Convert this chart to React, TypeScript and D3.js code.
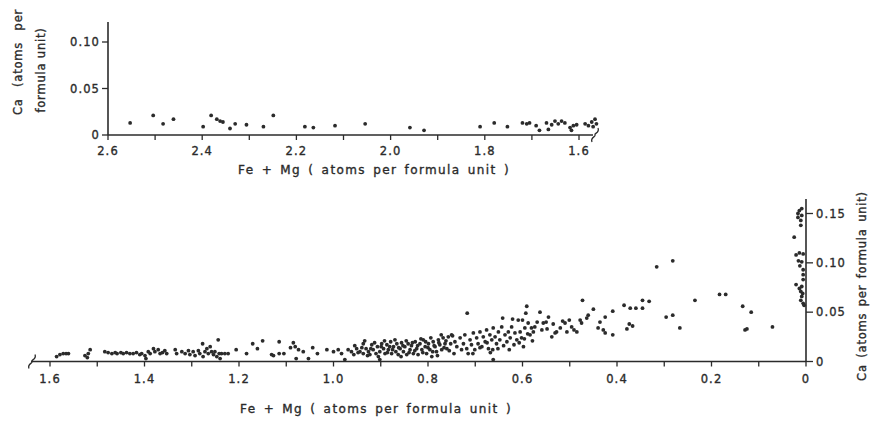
import React from "react";
import * as d3 from "d3";

// Upper panel: high Fe+Mg compositions, [Fe+Mg, Ca]
const upperSeries: [number, number][] = [
  [2.553, 0.013], [2.504, 0.021], [2.483, 0.012], [2.461, 0.017], [2.398, 0.009],
  [2.381, 0.021], [2.369, 0.017], [2.362, 0.015], [2.356, 0.014], [2.341, 0.007],
  [2.330, 0.012], [2.306, 0.011], [2.270, 0.009], [2.249, 0.021], [2.182, 0.009],
  [2.164, 0.008], [2.118, 0.010], [2.054, 0.012], [1.959, 0.008], [1.929, 0.005],
  [1.810, 0.009], [1.780, 0.013], [1.752, 0.009], [1.720, 0.013], [1.711, 0.012],
  [1.705, 0.013], [1.691, 0.010], [1.684, 0.005], [1.669, 0.013], [1.665, 0.006],
  [1.658, 0.011], [1.651, 0.015], [1.644, 0.012], [1.637, 0.015], [1.630, 0.013],
  [1.619, 0.008], [1.612, 0.010], [1.605, 0.011], [1.616, 0.005], [1.587, 0.012],
  [1.580, 0.010], [1.573, 0.014], [1.566, 0.017], [1.563, 0.012], [1.570, 0.009],
];

// Lower panel: low Fe+Mg compositions, [Fe+Mg, Ca]
const lowerSeries: [number, number][] = [
  [1.586, 0.005], [1.579, 0.007], [1.572, 0.008], [1.566, 0.008], [1.561, 0.008],
  [1.526, 0.006], [1.519, 0.008], [1.515, 0.012], [1.521, 0.004], [1.484, 0.010],
  [1.477, 0.009], [1.469, 0.008], [1.462, 0.009], [1.458, 0.008], [1.450, 0.009],
  [1.445, 0.008], [1.438, 0.009], [1.431, 0.008], [1.424, 0.008], [1.417, 0.009],
  [1.410, 0.007], [1.406, 0.008], [1.399, 0.006], [1.397, 0.003], [1.392, 0.010],
  [1.388, 0.008], [1.381, 0.013], [1.378, 0.010], [1.371, 0.012], [1.367, 0.008],
  [1.362, 0.009], [1.357, 0.011], [1.353, 0.008], [1.335, 0.012], [1.332, 0.008],
  [1.321, 0.010], [1.314, 0.008], [1.307, 0.011], [1.304, 0.007], [1.297, 0.010],
  [1.293, 0.006], [1.286, 0.011], [1.283, 0.008], [1.277, 0.018], [1.276, 0.005],
  [1.272, 0.010], [1.268, 0.013], [1.265, 0.008], [1.261, 0.015], [1.258, 0.010],
  [1.254, 0.007], [1.251, 0.010], [1.247, 0.005], [1.244, 0.022], [1.242, 0.008],
  [1.237, 0.008], [1.230, 0.008], [1.223, 0.008], [1.240, 0.003], [1.206, 0.012],
  [1.184, 0.008], [1.171, 0.018], [1.161, 0.013], [1.150, 0.021], [1.131, 0.007],
  [1.127, 0.006], [1.115, 0.020], [1.115, 0.008], [1.105, 0.008], [1.085, 0.019],
  [1.091, 0.014], [1.081, 0.015], [1.074, 0.012], [1.064, 0.010], [1.053, 0.003],
  [1.079, 0.003], [1.044, 0.014], [1.034, 0.008], [1.014, 0.012],
  [1.000, 0.010], [0.990, 0.012], [0.983, 0.008], [0.976, 0.002], [0.969, 0.012],
  [0.962, 0.010], [0.957, 0.007], [0.951, 0.013], [0.944, 0.010], [0.937, 0.018],
  [0.937, 0.008], [0.931, 0.013], [0.926, 0.010], [0.923, 0.007], [0.919, 0.017],
  [0.916, 0.012], [0.910, 0.008], [0.907, 0.015], [0.902, 0.010], [0.902, 0.002],
  [0.898, 0.018], [0.894, 0.013], [0.891, 0.008], [0.887, 0.017], [0.884, 0.012],
  [0.879, 0.020], [0.877, 0.008], [0.873, 0.015], [0.868, 0.010], [0.866, 0.018],
  [0.863, 0.007], [0.859, 0.013], [0.856, 0.019], [0.852, 0.010], [0.849, 0.015],
  [0.845, 0.007], [0.842, 0.018], [0.838, 0.012], [0.835, 0.016], [0.831, 0.008],
  [0.827, 0.020], [0.824, 0.013], [0.821, 0.007], [0.817, 0.018], [0.813, 0.012],
  [0.810, 0.022], [0.806, 0.015], [0.803, 0.008], [0.799, 0.018], [0.796, 0.012],
  [0.792, 0.005], [0.789, 0.020], [0.785, 0.015], [0.782, 0.010], [0.778, 0.022],
  [0.775, 0.017], [0.771, 0.012], [0.768, 0.024], [0.764, 0.018], [0.760, 0.013],
  [0.757, 0.025],
  [0.955, 0.016], [0.948, 0.009], [0.940, 0.014], [0.934, 0.021], [0.928, 0.006],
  [0.921, 0.013], [0.913, 0.019], [0.905, 0.005], [0.899, 0.015], [0.892, 0.021],
  [0.886, 0.009], [0.881, 0.015], [0.875, 0.012], [0.870, 0.022], [0.862, 0.014],
  [0.857, 0.005], [0.853, 0.016], [0.846, 0.021], [0.840, 0.009], [0.833, 0.019],
  [0.828, 0.011], [0.822, 0.016], [0.815, 0.023], [0.811, 0.009], [0.805, 0.020],
  [0.800, 0.014], [0.794, 0.024], [0.790, 0.010], [0.787, 0.016], [0.780, 0.006],
  [0.777, 0.019], [0.772, 0.027], [0.766, 0.014], [0.762, 0.021], [0.755, 0.011],
  [0.752, 0.018], [0.748, 0.026], [0.745, 0.008],
  [0.717, 0.049], [0.750, 0.027], [0.743, 0.020], [0.739, 0.015], [0.732, 0.024],
  [0.729, 0.012], [0.725, 0.018], [0.722, 0.027], [0.718, 0.013], [0.715, 0.008],
  [0.711, 0.022], [0.708, 0.017], [0.704, 0.029], [0.701, 0.012], [0.697, 0.024],
  [0.694, 0.018], [0.690, 0.030], [0.686, 0.015], [0.683, 0.025], [0.679, 0.020],
  [0.676, 0.032], [0.672, 0.013], [0.669, 0.027], [0.665, 0.022], [0.663, 0.012],
  [0.662, 0.034], [0.658, 0.025], [0.655, 0.018], [0.651, 0.030], [0.648, 0.022],
  [0.644, 0.035], [0.642, 0.044], [0.662, 0.002], [0.637, 0.027], [0.633, 0.020],
  [0.630, 0.030], [0.626, 0.024], [0.623, 0.035], [0.621, 0.043], [0.616, 0.029],
  [0.612, 0.022], [0.609, 0.042], [0.605, 0.030], [0.602, 0.024], [0.600, 0.042],
  [0.598, 0.015], [0.595, 0.034], [0.593, 0.049], [0.591, 0.056], [0.588, 0.039],
  [0.584, 0.027], [0.581, 0.034], [0.577, 0.030], [0.574, 0.035], [0.569, 0.040],
  [0.563, 0.050], [0.559, 0.032], [0.556, 0.039], [0.550, 0.040], [0.548, 0.033],
  [0.538, 0.025], [0.531, 0.029], [0.528, 0.030],
  [0.705, 0.008], [0.690, 0.014], [0.675, 0.019], [0.668, 0.009], [0.652, 0.013],
  [0.640, 0.016], [0.628, 0.012], [0.618, 0.017], [0.607, 0.019], [0.596, 0.023],
  [0.589, 0.028], [0.579, 0.021],
  [0.473, 0.062], [0.316, 0.096], [0.510, 0.039], [0.506, 0.030], [0.501, 0.042],
  [0.496, 0.035], [0.491, 0.032], [0.485, 0.030], [0.478, 0.042], [0.475, 0.039],
  [0.464, 0.044], [0.461, 0.047], [0.450, 0.053], [0.440, 0.034], [0.436, 0.040],
  [0.429, 0.032], [0.425, 0.045], [0.425, 0.029], [0.409, 0.027], [0.409, 0.051],
  [0.385, 0.057], [0.379, 0.033], [0.374, 0.038], [0.367, 0.036], [0.372, 0.054],
  [0.360, 0.054], [0.346, 0.062], [0.346, 0.054], [0.332, 0.061], [0.282, 0.102],
  [0.296, 0.045], [0.282, 0.047], [0.267, 0.034], [0.235, 0.062], [0.183, 0.068],
  [0.170, 0.068], [0.134, 0.056], [0.116, 0.050], [0.129, 0.032], [0.125, 0.033],
  [0.071, 0.035],
  [0.520, 0.034], [0.515, 0.041], [0.545, 0.045], [0.535, 0.038],
  [0.014, 0.153], [0.009, 0.155], [0.017, 0.150], [0.009, 0.148], [0.017, 0.146],
  [0.011, 0.143], [0.011, 0.138], [0.025, 0.126], [0.021, 0.108], [0.016, 0.102],
  [0.006, 0.109], [0.006, 0.093], [0.006, 0.088], [0.006, 0.083], [0.021, 0.078],
  [0.014, 0.074], [0.009, 0.076], [0.011, 0.071], [0.007, 0.069], [0.009, 0.066],
  [0.011, 0.062], [0.006, 0.059], [0.004, 0.057], [0.013, 0.097], [0.014, 0.110],
  [0.009, 0.101],
];

const upperXTicks = [2.6, 2.5, 2.4, 2.3, 2.2, 2.1, 2.0, 1.9, 1.8, 1.7, 1.6];
const upperXLabels = ["2.6", "2.4", "2.2", "2.0", "1.8", "1.6"];
const upperYTicks = [0, 0.05, 0.1];
const upperYLabels = ["0", "0.05", "0.10"];

const lowerXTicks = [1.6, 1.5, 1.4, 1.3, 1.2, 1.1, 1.0, 0.9, 0.8, 0.7, 0.6, 0.5, 0.4, 0.3, 0.2, 0.1, 0];
const lowerXLabels = ["1.6", "1.4", "1.2", "1.0", "0.8", "0.6", "0.4", "0.2", "0"];
const lowerYTicks = [0, 0.05, 0.1, 0.15];
const lowerYLabels = ["0", "0.05", "0.10", "0.15"];

const xTitle = "Fe + Mg  ( atoms per formula unit )";
const ink = "#2b2b2b";
const font = "'DejaVu Sans', sans-serif";

// Small S-shaped axis break
function BreakMark({ x, y }: { x: number; y: number }) {
  const p = d3.path();
  p.moveTo(x - 3, y + 7);
  p.bezierCurveTo(x - 5, y + 2, x + 1, y + 2, x, y);
  p.bezierCurveTo(x - 1, y - 2, x + 5, y - 2, x + 3, y - 7);
  return <path d={p.toString()} fill="none" stroke={ink} strokeWidth={1.3} />;
}

export default function App() {
  // Upper panel scales
  const ux = d3.scaleLinear().domain([2.6, 1.6]).range([108, 579]);
  const uy = d3.scaleLinear().domain([0, 0.1]).range([135, 42]);
  // Lower panel scales
  const lx = d3.scaleLinear().domain([1.6, 0]).range([50, 806]);
  const ly = d3.scaleLinear().domain([0, 0.15]).range([361.5, 213.5]);

  // lettering: slightly heavy, widely spaced
  const textStyle = { fontFamily: font, fill: ink, stroke: ink, strokeWidth: 0.35 } as const;
  const tickText = { ...textStyle, fontSize: 11.5, letterSpacing: 1.1 } as const;
  const titleText = { ...textStyle, fontSize: 12, letterSpacing: 1.4, wordSpacing: 2 } as const;
  const sideTitle = { ...textStyle, fontSize: 11.5, letterSpacing: 0.8 } as const;

  return (
    <svg
      width={876}
      height={423}
      style={{ position: "absolute", left: 0, top: 0, background: "#fff" }}
    >
      {/* ---------- upper panel ---------- */}
      <g>
        <line x1={ux(2.6)} x2={ux(1.6) + 14} y1={uy(0)} y2={uy(0)} stroke={ink} strokeWidth={1.6} />
        <BreakMark x={ux(1.6) + 16} y={uy(0)} />
        <line x1={ux(2.6)} x2={ux(2.6)} y1={uy(0)} y2={22} stroke={ink} strokeWidth={1.6} />
        {upperXTicks.map((t) => (
          <line key={t} x1={ux(t)} x2={ux(t)} y1={uy(0)} y2={uy(0) + 5} stroke={ink} strokeWidth={1.3} />
        ))}
        {upperXLabels.map((s) => (
          <text key={s} x={ux(+s)} y={155} textAnchor="middle" {...tickText}>
            {s}
          </text>
        ))}
        {upperYTicks.map((t) => (
          <line key={t} x1={ux(2.6) - 6} x2={ux(2.6)} y1={uy(t)} y2={uy(t)} stroke={ink} strokeWidth={1.3} />
        ))}
        {upperYLabels.map((s) => (
          <text key={s} x={100} y={uy(+s) + 4} textAnchor="end" {...tickText}>
            {s}
          </text>
        ))}
        {upperSeries.map(([v, c], i) => (
          <circle key={i} cx={ux(v)} cy={uy(c)} r={1.9} fill={ink} />
        ))}
        <text x={374} y={174} textAnchor="middle" {...titleText}>
          {xTitle}
        </text>
        <text transform="translate(22,62) rotate(-90)" textAnchor="middle" {...sideTitle} wordSpacing={7}>
          Ca (atoms per
        </text>
        <text transform="translate(45,70) rotate(-90)" textAnchor="middle" {...sideTitle}>
          formula unit)
        </text>
      </g>

      {/* ---------- lower panel ---------- */}
      <g>
        <line x1={31} x2={lx(0)} y1={ly(0)} y2={ly(0)} stroke={ink} strokeWidth={1.6} />
        <BreakMark x={32} y={ly(0)} />
        <line x1={lx(0)} x2={lx(0)} y1={ly(0)} y2={199} stroke={ink} strokeWidth={1.6} />
        {lowerXTicks.map((t) => (
          <line key={t} x1={lx(t)} x2={lx(t)} y1={ly(0)} y2={ly(0) + 5} stroke={ink} strokeWidth={1.3} />
        ))}
        {lowerXLabels.map((s) => (
          <text key={s} x={lx(+s)} y={383} textAnchor="middle" {...tickText}>
            {s}
          </text>
        ))}
        {lowerYTicks.map((t) => (
          <line key={t} x1={lx(0)} x2={lx(0) + 7} y1={ly(t)} y2={ly(t)} stroke={ink} strokeWidth={1.3} />
        ))}
        {lowerYLabels.map((s) => (
          <text key={s} x={816} y={ly(+s) + 4} textAnchor="start" {...tickText}>
            {s}
          </text>
        ))}
        {lowerSeries.map(([v, c], i) => (
          <circle key={i} cx={lx(v)} cy={ly(c)} r={1.9} fill={ink} />
        ))}
        <text x={376} y={413} textAnchor="middle" {...titleText}>
          {xTitle}
        </text>
        <text transform="translate(866,286) rotate(-90)" textAnchor="middle" {...sideTitle} wordSpacing={2}>
          Ca (atoms per formula unit)
        </text>
      </g>
    </svg>
  );
}
